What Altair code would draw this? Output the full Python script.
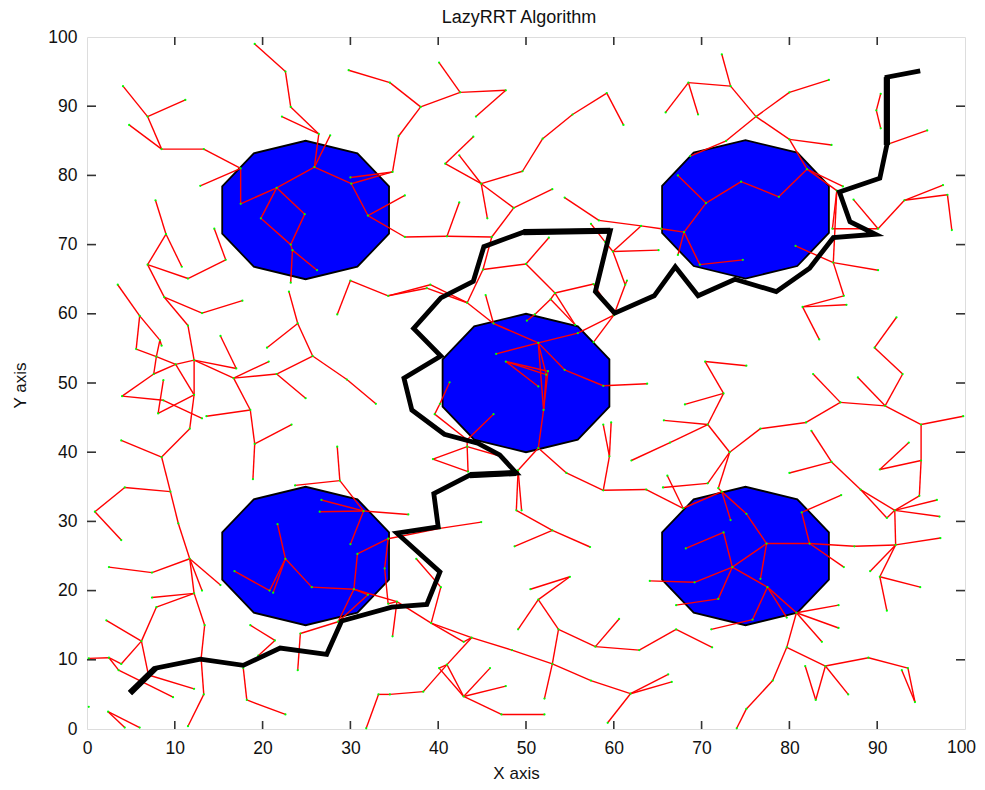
import altair as alt
import pandas as pd

nodes = {
"A":(4.1,92.9),"B":(6.9,88.5),"C":(11.2,90.9),"D":(4.8,87.3),"E":(8.5,83.8),"F":(13.3,83.8),"G":(17.5,81.0),"H":(12.9,78.5),
"I":(17.5,75.9),"J":(21.6,78.2),"K":(25.9,81.2),"L":(30.1,78.8),"M":(32.0,74.2),"N":(36.2,77.1),"O":(36.2,71.1),"P":(30.0,79.7),
"Q":(34.8,80.5),"R":(35.5,85.7),"T":(29.8,95.2),"U":(34.5,93.4),"V":(38.0,89.9),"W":(42.5,92.0),"X":(40.1,96.3),"Y":(47.7,92.3),"Z":(44.3,88.5),
"a":(44.0,85.6),"b":(40.8,81.7),"c":(44.9,78.8),"d":(42.4,82.9),"e":(49.6,80.6),"f":(51.9,85.3),"g":(55.3,88.8),"h":(59.2,91.9),"i":(61.1,87.3),
"j":(45.6,73.8),"k":(48.6,75.3),"l":(53.0,78.0),"m":(46.1,71.1),"n":(41.0,71.2),"o":(42.4,76.1),"p":(54.4,76.8),"q":(58.3,73.5),"r":(63.1,72.7),
"s":(65.4,72.3),"t":(68.0,71.8),"u":(57.4,73.0),"v":(59.0,70.4),"w":(59.9,69.0),"x":(65.1,69.2),"y":(50.0,67.2),"y2":(52.6,71.0),"z":(45.1,66.4),
"aa":(43.3,61.6),"ab":(53.3,63.0),"ac":(55.6,58.4),"ad":(52.8,62.1),"ae":(51.0,59.9),"af":(50.1,59.0),"ag":(57.7,64.3),"ah":(60.0,59.8),
"ai":(55.9,57.2),"aj":(57.7,55.9),"ak":(61.3,64.2),"al":(61.5,64.8),"am":(51.4,55.8),"an":(46.6,54.2),"ao":(46.3,58.6),"ap":(45.4,62.7),
"aq":(39.1,64.2),"ar":(38.7,63.7),"as":(34.3,62.6),"at":(30.0,64.8),"au":(28.5,59.9),"av":(54.4,51.9),"aw":(58.8,49.6),"ax":(63.8,49.9),
"ay":(52.3,51.2),"az":(52.0,46.1),"ba":(51.4,40.6),"bb":(47.7,53.1),"bc":(52.5,51.7),"bd":(51.4,49.5),"be":(41.3,50.1),"bf":(40.2,47.0),
"bg":(39.6,45.5),"bh":(43.3,41.8),"bi":(46.3,45.5),"bj":(43.4,37.2),"bk":(39.4,39.0),"bl":(43.3,40.8),"bm":(47.4,39.3),"bn":(49.1,37.4),
"bo":(54.6,37.0),"bp":(58.8,34.5),"bq":(63.7,34.6),"br":(67.9,31.9),"bs":(59.5,39.4),"bt":(58.8,44.0),"bu":(59.7,44.3),"bv":(66.4,41.4),"bw":(62.0,38.8),
"bx":(48.9,31.6),"by":(49.5,31.6),"bz":(53.0,28.7),"ca":(57.3,26.3),"cb":(48.7,26.4),"cc":(55.0,22.0),"cd":(50.5,20.2),"ce":(51.4,18.7),
"cf":(49.1,14.4),"cg":(53.7,14.4),"ch":(53.0,9.4),"ci":(52.1,4.4),"cj":(57.9,11.9),"ck":(60.6,15.9),"cl":(62.9,11.4),"cm":(67.1,14.4),"F50":(71.2,11.8),
"cn":(39.2,15.3),"co":(43.8,13.2),"cp":(48.4,11.4),"cq":(57.4,7.0),"cr":(61.9,5.1),"cs":(66.2,7.9),"ct":(66.6,6.8),"cu":(59.3,0.9),
"cv":(40.3,20.5),"cw":(42.9,12.6),"cx":(41.0,9.3),"cy":(42.9,4.7),"cz":(40.1,8.8),"da":(38.3,5.4),"db":(34.5,5.0),"dc":(45.9,8.8),"dd":(47.7,6.2),
"de":(47.2,2.1),"df":(52.1,2.1),"dg":(37.5,24.6),"dj":(40.2,29.0),"di":(44.9,29.9),"dk":(36.6,31.0),"dl":(34.8,13.4),"dm":(35.3,18.4),
"H1":(33.2,5.0),"H2":(31.8,0.1),
"A1":(0.9,31.4),"A2":(4.3,34.9),"A3":(3.9,27.3),"A4":(9.5,34.3),"A5":(8.5,39.3),"A6":(3.9,41.7),"A7":(11.7,43.4),"A8":(10.4,29.7),"A9":(11.7,24.6),
"A10":(7.4,22.6),"A11":(2.5,23.4),"A12":(13.1,20.0),"A13":(15.2,20.8),"A14":(12.2,19.6),"A15":(7.4,19.0),"A16":(7.9,17.6),"A17":(6.2,12.7),
"A18":(2.2,15.7),"A19":(3.9,9.4),"A20":(7.0,7.8),"A21":(12.2,5.8),"A22":(3.6,8.5),"A23":(2.5,10.3),"A24":(0.2,10.2),"A25":(9.8,4.6),"A26":(13.4,15.0),
"A27":(13.0,10.2),"A28":(13.3,5.0),"A29":(11.5,0.4),"A30":(0.2,3.2),"A31":(2.4,2.5),"A32":(6.0,0.2),"A41":(4.3,0.2),"A33":(18.2,4.2),"A34":(22.6,2.1),
"A35":(18.6,15.0),"A36":(21.4,12.8),"A39":(19.5,10.6),"A40":(17.8,8.8),"A37":(24.3,13.8),"A38":(24.0,8.5),
"B1":(21.7,29.6),"B2":(22.6,24.6),"B3":(21.2,19.7),"B4":(20.8,20.0),"B5":(16.8,22.8),"B6":(25.6,20.5),"B7":(30.4,20.2),"B8":(30.8,25.3),"B9":(34.3,27.5),
"B10":(28.6,15.5),"B11":(32.0,19.4),"B12":(31.5,31.5),"B13":(26.5,31.4),"B14":(26.7,33.1),"B15":(30.0,26.7),"B16":(28.8,35.9),"B17":(23.7,35.2),
"B18":(28.5,40.8),"B19":(33.9,23.2),"B20":(34.3,18.1),
"C1":(23.2,70.0),"C2":(19.8,73.8),"C3":(24.8,74.4),"C4":(23.4,69.2),"C5":(23.2,64.5),"C6":(26.2,66.3),"C7":(23.0,63.2),"C8":(24.0,58.6),"C9":(25.7,53.9),
"C10":(20.5,55.1),"C11":(29.6,50.5),"C12":(32.9,47.0),"C13":(21.6,51.3),"C14":(24.9,47.8),"C15":(16.7,50.7),"C16":(20.7,53.1),"C17":(18.6,46.1),
"C18":(13.6,45.2),"C19":(19.1,41.2),"C20":(23.3,44.0),"C21":(18.9,36.1),"C22":(12.2,53.3),"C23":(17.0,52.1),"C24":(15.2,56.8),"C25":(10.1,52.7),
"C26":(11.5,58.3),"C27":(8.8,62.4),"C28":(6.9,67.1),"C29":(13.1,60.1),"C30":(17.7,61.9),"C31":(12.2,48.3),"C32":(8.1,45.6),"C33":(11.5,65.1),
"C34":(15.8,67.8),"C35":(14.5,72.3),"C36":(9.0,71.5),"C37":(7.8,76.4),"C38":(10.8,66.8),"C39":(3.5,64.2),"C40":(6.0,59.7),"C41":(8.3,56.2),"C42":(8.5,55.4),
"C43":(5.6,54.9),"C44":(7.9,53.8),"C45":(7.6,51.3),"C46":(4.0,48.1),"C47":(8.7,47.5),"C48":(13.1,44.9),"C49":(8.7,50.4),
"S1":(26.4,86.0),"S2":(27.7,85.8),"S3":(22.2,88.5),"S4":(23.2,89.9),"S5":(22.6,95.0),"S6":(19.1,99.0),
"D1":(72.3,97.5),"D2":(73.3,92.9),"D3":(68.5,93.4),"D4":(65.9,89.1),"D5":(69.6,88.8),"D6":(76.2,88.5),"D7":(80.0,92.0),"D8":(84.5,93.8),"D9":(80.0,85.2),
"D10":(84.8,84.4),"D11":(82.0,80.9),"D12":(72.8,85.0),"D13":(68.7,82.8),"D14":(78.8,76.9),"D15":(74.5,79.1),"D16":(70.5,76.0),"D17":(67.3,80.0),
"D18":(69.8,67.1),"D19":(74.7,67.8),"D20":(67.3,68.5),"D21":(86.1,78.4),"D44":(85.4,77.8),"D22":(89.9,89.4),"D46":(90.4,91.8),"D47":(90.4,86.8),
"D48":(91.4,84.6),"D23":(95.7,86.5),"D24":(87.3,76.5),"D25":(90.1,72.3),"D26":(93.1,76.4),"D27":(97.5,78.6),"D28":(98.0,77.2),"D29":(98.5,72.1),
"D30":(84.9,72.3),"D31":(85.0,67.4),"D32":(80.7,69.8),"D33":(90.1,66.3),"D34":(86.2,62.6),"D35":(81.5,61.0),"D36":(86.5,61.3),"D37":(83.4,56.3),
"E1":(92.2,59.5),"E2":(89.7,55.1),"E3":(92.9,51.3),"E4":(90.9,46.7),"E5":(87.8,50.8),"E6":(85.8,47.2),"E7":(82.7,51.3),"E8":(81.9,44.3),"E9":(76.7,43.4),
"E10":(73.2,40.0),"E11":(70.7,44.0),"E12":(72.5,48.5),"E13":(70.4,53.1),"E14":(75.1,52.5),"E15":(68.1,46.9),"E16":(65.7,44.6),"E17":(95.0,44.0),
"E18":(99.8,45.2),"E19":(95.0,38.8),"E20":(90.3,37.5),"E21":(93.6,41.4),"E22":(94.8,33.7),"E23":(82.5,43.1),"E24":(84.8,38.6),"E25":(80.0,37.0),
"E26":(88.1,34.6),"E27":(70.7,35.5),"E28":(65.6,34.9),"E29":(66.1,36.6),"E30":(71.9,34.8),
"F1":(72.3,34.3),"F2":(73.3,30.2),"F3":(75.1,31.1),"F4":(77.4,26.8),"F5":(72.5,28.4),"F6":(68.2,26.1),"F7":(73.5,23.4),"F8":(71.9,18.8),"F9":(67.1,17.9),
"F10":(69.2,21.2),"F11":(64.1,21.4),"F12":(77.5,20.5),"F13":(75.8,15.8),"F14":(71.1,14.4),"F15":(76.7,21.7),"F16":(82.3,26.8),"F17":(81.4,31.3),
"F18":(86.2,23.4),"F19":(85.9,33.8),"F20":(87.4,26.4),"F21":(92.1,26.6),"F22":(89.2,22.8),"F23":(97.2,27.6),"F24":(90.3,22.0),"F25":(94.9,20.5),
"F26":(91.1,17.1),"F27":(80.8,16.8),"F28":(79.7,16.1),"F29":(85.6,17.9),"F30":(85.6,14.6),"F31":(83.7,12.6),"F32":(79.7,11.8),"F33":(78.1,7.0),
"F34":(75.1,2.9),"F35":(74.0,0.1),"F36":(84.1,9.1),"F37":(83.0,4.2),"F38":(81.8,9.1),"F39":(86.7,5.0),"F40":(89.0,10.3),"F41":(93.5,8.8),"F42":(94.3,3.9),
"F43":(92.8,8.5),"G1":(92.0,31.6),"G2":(91.1,30.5),"G3":(96.8,33.1),"G4":(97.1,30.7),
}

branches = """A B E F G H|C B|D E|G I J K L M N|M O n m k l|n o|K S1 S3|S1 S4 S5 S6|K S2|L Q R V U T|P Q|V W X|W Y Z|a b c d|c e f g h i|c k|c j
p q r s t|u v w x|r w|w ak ah|ak al|m z aa|z y ab ad ac|ab ac|y y2|ab ag ah|ad ae af|ah ai am an|ah aj|am ao ap|aa ao|aa aq as at au|aa ar as
am av aw ax|am az ba|am ay az|bb bc az|bb ay|bb bd|be bf bg bh bi|bh bl bj bk bl bm|ba bn bx bz ca|bn by|bz cb|ba bo bp bq br|bp bs bt|bs bu|bw bv E11
cc cd|cc ce cf|ce cg ch ci|cg cj ck|cj cl cm F50|cn co cp ch cq cr cs|cr ct|cr cu|cn cv dg|cn cw co|co cx cy|cz cy|cx da db H1 H2|cz cx|cy dc|cy dd|cy de df
B9 dj di|dm dl|dm cn|B7 dm|B1 B2|B5 B4 B2 B3|B2 B6 B7 B8 B9|B7 B10|B7 B11 B10|B10 A37 A38|B16 B12 B13|B12 B14|B12 B15|B12 dk|B18 B16 B17|B9 B19 B20 dm
A35 A36 A39|A40 A33 A34|A1 A2 A4 A8 A9|A1 A3|A4 A5 A6|A5 A7|A9 A10 A11|A9 A12|A9 A13|A9 A14 A15|A14 A16 A17 A18|A17 A19|A17 A20 A21|A14 A26 A27 A28 A29
A24 A23 A19|A23 A22 A25|A31 A32|A31 A41
J C2 C1|J C3 C1|C1 C4 C6|C4 C5|C7 C8 C9 C11 C12|C8 C10|C9 C13 C14|C13 C15 C16|C15 C17 C18|C17 C19 C20|C19 C21|C15 C22|C24 C23 C22|C22 C25|C22 C26 C27 C28
C27 C29 C30|C22 C31 A7|C31 C32|C28 C33 C34 C35|C28 C36 C37|C36 C38|C39 C40 C41 C42|C40 C43 C44 C25|C41 C44 C45 C25|C45 C46 C47 C48|C25 C31|C49 C32
D4 D3 D5|D3 D2 D1|D2 D6 D7 D8|D6 D9 D10|D9 D11 D14 D15 D16 D17|D6 D12 D13|D16 t|t D18 D19|t D20|D11 D21|D11 D44|D24 D25 D26 D27|D26 D28 D29|D25 D30|D44 D30|D44 D31
D31 D33|D32 D31|D31 D34 D35 D37|D35 D36|D22 D46|D22 D47|D48 D23
E1 E2 E3 E4 E17 E18|E5 E4 E6 E7|E6 E8 E9 E10 E11 E12 E13 E14|E12 E15|E11 E16|E17 E19 E20 E21|E19 E22 G1|E23 E24 E25|E24 E26 G1|E26 G2 G1|E10 E27 E28|E10 E30 F1|E29 br
br F1 F3 F4|F1 F2|F5 F6|F5 F7 F4|F7 F8 F9|F7 F10 F11|F7 F12 F13 F14|F4 F15|F4 F16 F17 F19|F16 F18|F16 F20 F21|F21 F22|F21 F23|F21 F24 F25|F24 F26|F21 G1 G3|G1 G4
F12 F27 F29|F27 F30|F27 F31|F12 F28|F27 F32 F33 F34 F35|F32 F36 F37 F38|F36 F39|F36 F40 F41 F42 F43"""

path_x = [4.9,7.8,12.9,17.8,22.0,27.3,29.0,34.7,38.7,40.2,35.3,40.0,39.5,43.6,48.9,47.0,44.5,40.7,37.0,36.1,40.3,37.2,40.3,44.0,45.2,49.7,59.6,57.9,60.1,64.6,67.0,69.6,73.8,78.5,82.3,85.0,89.8,86.9,85.7,90.3,91.1,91.1,94.9]
path_y = [5.2,8.8,10.1,9.2,11.7,10.8,15.6,17.6,18.0,22.7,28.3,29.2,34.0,36.7,37.0,39.6,41.3,42.6,46.1,50.7,53.9,57.9,62.3,64.7,69.7,71.8,72.0,63.2,60.1,62.6,66.8,62.6,65.0,63.2,66.6,71.0,71.5,73.3,77.6,79.6,84.4,94.2,95.1]
# indices of the stretches of the path that are drawn heavier
heavy_runs = [(0, 1), (13, 14), (25, 26), (40, 41)]

obstacle_centers = [(24.9, 75.0), (75.0, 75.1), (50.0, 50.0), (24.9, 25.0), (75.0, 25.0)]
shape_dx = [-9.5, -5.9, 0.0, 5.9, 9.5]
shape_dy = [3.4, 8.2, 10.0, 8.2, 3.4]

x_ticks = [0, 10, 20, 30, 40, 50, 60, 70, 80, 90, 100]
y_ticks = [0, 10, 20, 30, 40, 50, 60, 70, 80, 90, 100]
FONT = "Liberation Sans"
W, H = 878, 692

edge_rows = []
for line in branches.replace("\n", "|").split("|"):
    names = line.split()
    for p, q in zip(names[:-1], names[1:]):
        edge_rows.append(dict(x=nodes[p][0], y=nodes[p][1], x2=nodes[q][0], y2=nodes[q][1]))
edges = pd.DataFrame(edge_rows)
pts = pd.DataFrame([dict(x=v[0], y=v[1]) for v in nodes.values()])
path = pd.DataFrame(dict(x=path_x, y=path_y, i=range(len(path_x))))
heavy = pd.concat([path.iloc[a:b + 1].assign(run=k) for k, (a, b) in enumerate(heavy_runs)])
obst = pd.DataFrame([
    dict(o=k, x=c[0] + dx, y=c[1] + dy, y2=c[1] - dy)
    for k, c in enumerate(obstacle_centers) for dx, dy in zip(shape_dx, shape_dy)
])

xs = alt.Scale(domain=[0, 100], nice=False, zero=False)
ys = alt.Scale(domain=[0, 100], nice=False, zero=False)
x_axis = alt.Axis(values=x_ticks[:-1], ticks=False, domain=False, grid=False, labelFont=FONT, labelFontSize=17.5, labelColor="#111",
                  labelPadding=10, title="X axis", titleFont=FONT, titleFontSize=17, titleFontWeight="normal", titleColor="#111",
                  titleX=429, titleY=36, labelFlush=False, labelOverlap=False)
y_axis = alt.Axis(values=y_ticks, ticks=False, domain=False, grid=False, labelFont=FONT, labelFontSize=17.5, labelColor="#111",
                  labelPadding=10, title="Y axis", titleFont=FONT, titleFontSize=17, titleFontWeight="normal", titleColor="#111",
                  titleX=-58, titleY=348, labelFlush=False, labelOverlap=False)
X = alt.X("x:Q", scale=xs, axis=x_axis)
Y = alt.Y("y:Q", scale=ys, axis=y_axis)

blobs = alt.Chart(obst).mark_area(color="#0000ff", stroke="black", strokeWidth=1.8, interpolate="linear", opacity=1).encode(
    x=X, y=Y, y2="y2:Q", detail="o:N")
tree = alt.Chart(edges).mark_rule(color="#ff0000", strokeWidth=1.4).encode(x=X, y=Y, x2="x2:Q", y2="y2:Q")
dots = alt.Chart(pts).mark_circle(color="#00ff00", size=5, opacity=1).encode(x=X, y=Y)
route = alt.Chart(path).mark_line(color="black", strokeWidth=4.8, strokeJoin="miter", strokeCap="butt").encode(x=X, y=Y, order="i:Q")
route_heavy = alt.Chart(heavy).mark_line(color="black", strokeWidth=6.2, strokeCap="butt").encode(x=X, y=Y, detail="run:N", order="i:Q")

tx = pd.DataFrame(dict(v=x_ticks[1:-1]))
ty = pd.DataFrame(dict(v=y_ticks[1:-1]))
TC = "#333333"
ticks = [
    alt.Chart(tx).mark_rule(color=TC, strokeWidth=1.6).encode(x=alt.X("v:Q", scale=xs, axis=x_axis), y=alt.value(0), y2=alt.value(8)),
    alt.Chart(tx).mark_rule(color=TC, strokeWidth=1.6).encode(x=alt.X("v:Q", scale=xs, axis=x_axis), y=alt.value(H - 8), y2=alt.value(H)),
    alt.Chart(ty).mark_rule(color=TC, strokeWidth=1.6).encode(y=alt.Y("v:Q", scale=ys, axis=y_axis), x=alt.value(0), x2=alt.value(9)),
    alt.Chart(ty).mark_rule(color=TC, strokeWidth=1.6).encode(y=alt.Y("v:Q", scale=ys, axis=y_axis), x=alt.value(W - 9), x2=alt.value(W)),
]
# the last x label sits against the page edge, so it is nudged inward to stay whole
last_label = alt.Chart(pd.DataFrame(dict(v=x_ticks[-1:]))).mark_text(
    font=FONT, fontSize=17.5, color="#111", baseline="top", dx=-3.5, dy=10
).encode(x=alt.X("v:Q", scale=xs, axis=x_axis), y=alt.value(H), text="v:Q")

chart = alt.layer(blobs, tree, dots, route, route_heavy, *ticks, last_label).properties(
    width=W, height=H,
    title=alt.TitleParams("LazyRRT Algorithm", font=FONT, fontSize=18, fontWeight="normal", color="#111", anchor="middle", dx=-7, offset=1),
    autosize=alt.AutoSizeParams(type="none"),
    padding={"left": 79, "top": 29, "right": 12, "bottom": 53},
).configure_view(stroke=TC, strokeWidth=2).configure(background="white")
chart.save("out.html", embed_options={"renderer": "svg", "actions": False})
